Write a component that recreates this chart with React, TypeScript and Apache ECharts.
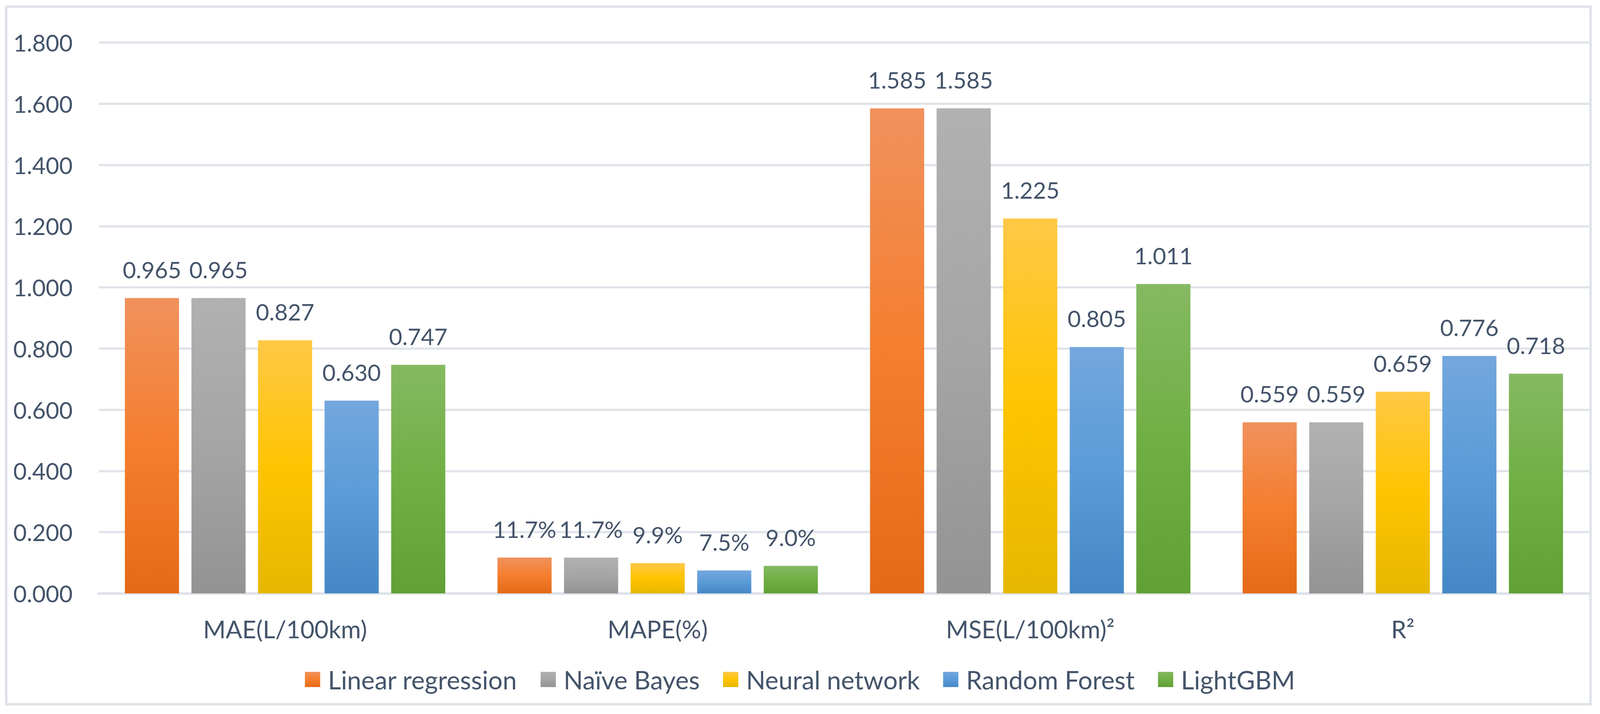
import React, { useEffect, useRef, useState } from "react";
import * as echarts from "echarts";

const categories = ["MAE(L/100km)", "MAPE(%)", "MSE(L/100km)²", "R²"];
const seriesNames = ["Linear regression", "Naïve Bayes", "Neural network", "Random Forest", "LightGBM"];
const linearRegression = [0.965, 0.117, 1.585, 0.559];
const naiveBayes = [0.965, 0.117, 1.585, 0.559];
const neuralNetwork = [0.827, 0.099, 1.225, 0.659];
const randomForest = [0.63, 0.075, 0.805, 0.776];
const lightGBM = [0.747, 0.09, 1.011, 0.718];
const yTicks = { min: 0, max: 1.8, interval: 0.2 };

const gradients = [
  ["#F1915D", "#F47E2E", "#E46A18"],
  ["#B1B1B1", "#A5A5A5", "#939393"],
  ["#FFC846", "#FFC400", "#E6B700"],
  ["#74A7DD", "#5A9BD8", "#4587C6"],
  ["#85B962", "#70AF44", "#61A034"],
];

const FONT = "Lato, Roboto, sans-serif";
const TEXT = "#44546A";
const GRID = "#DFE3E9";
const REF_W = 4405;
const REF_H = 1829;

export default function App() {
  const ref = useRef<HTMLDivElement>(null);
  const [size, setSize] = useState<{ w: number; h: number } | null>(null);

  useEffect(() => {
    document.body.style.margin = "0";
    document.body.style.overflow = "hidden";
    setSize({ w: window.innerWidth, h: window.innerHeight });
  }, []);

  useEffect(() => {
    if (!size || !ref.current) return;
    const sx = size.w / REF_W;
    const sy = size.h / REF_H;
    const s = Math.min(sx, sy);
    const chart = echarts.init(ref.current, null, { renderer: "svg" });
    const data = [linearRegression, naiveBayes, neuralNetwork, randomForest, lightGBM];
    const grad = (c: string[]) =>
      new echarts.graphic.LinearGradient(0, 0, 0, 1, [
        { offset: 0, color: c[0] },
        { offset: 0.5, color: c[1] },
        { offset: 1, color: c[2] },
      ]);
    const fs = 64 * s;
    chart.setOption({
      animation: false,
      backgroundColor: "#FFFFFF",
      textStyle: { fontFamily: FONT },
      graphic: [
        {
          type: "rect",
          shape: { x: 17 * sx, y: 17 * sy, width: 4362 * sx, height: 1787 * sy },
          style: { fill: "none", stroke: GRID, lineWidth: 7 * s },
          silent: true,
        },
      ],
      grid: { left: 272 * sx, right: 30 * sx, top: 109 * sy, bottom: 309 * sy, containLabel: false },
      legend: {
        top: 1703 * sy,
        left: "center",
        itemWidth: 42 * s,
        itemHeight: 42 * s,
        itemGap: 64 * sx,
        icon: "rect",
        textStyle: { fontSize: 70 * s, color: TEXT, fontFamily: FONT, padding: [0, 0, 0, 16 * sx] },
        data: seriesNames,
      },
      xAxis: {
        type: "category",
        data: categories,
        axisTick: { show: false },
        axisLine: { lineStyle: { color: GRID, width: 7 * s } },
        axisLabel: { fontSize: 67 * s, color: TEXT, margin: 60 * sy, fontFamily: FONT },
      },
      yAxis: {
        type: "value",
        min: yTicks.min,
        max: yTicks.max,
        interval: yTicks.interval,
        axisLine: { show: false },
        axisTick: { show: false },
        splitLine: { lineStyle: { color: GRID, width: 6 * s } },
        axisLabel: {
          fontSize: fs,
          color: TEXT,
          margin: 72 * sx,
          fontFamily: FONT,
          formatter: (v: number) => v.toFixed(3),
        },
      },
      series: seriesNames.map((name, i) => ({
        name,
        type: "bar",
        data: data[i],
        barWidth: 149 * sx,
        barGap: "23%",
        itemStyle: { color: grad(gradients[i]) },
        label: {
          show: true,
          position: "top",
          distance: 44 * sy,
          fontSize: 63 * s,
          color: TEXT,
          fontFamily: FONT,
          formatter: (p: any) =>
            p.dataIndex === 1 ? (p.value * 100).toFixed(1) + "%" : Number(p.value).toFixed(3),
        },
      })),
    });
    return () => chart.dispose();
  }, [size]);

  return <div ref={ref} style={{ width: size ? size.w : 100, height: size ? size.h : 100 }} />;
}
